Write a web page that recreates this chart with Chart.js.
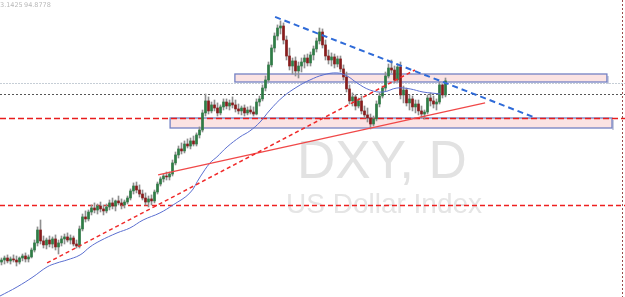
<!DOCTYPE html>
<html>
<head>
<meta charset="utf-8">
<script src="https://cdn.jsdelivr.net/npm/chart.js@4/dist/chart.umd.min.js"></script>
<style>
  html, body { margin: 0; padding: 0; background: #fff; }
  #wrap { width: 625px; height: 297px; position: relative; }
</style>
</head>
<body>
<div id="wrap"><canvas id="dxyChart" width="625" height="297"></canvas></div>
<script>
// daily candles, [open, high, low, close]
const candles = [
  [82.25, 82.55, 82.03, 82.40], [82.40, 82.70, 82.10, 82.55], [82.55, 82.78, 82.18, 82.33], [82.33, 82.63, 82.10, 82.48],
  [82.48, 82.78, 82.25, 82.40], [82.40, 82.70, 81.95, 82.25], [82.25, 82.63, 82.10, 82.55], [82.55, 82.85, 82.33, 82.70],
  [82.70, 82.93, 82.25, 82.48], [82.48, 82.78, 82.25, 82.63], [82.63, 83.30, 82.55, 83.15], [83.15, 83.90, 83.00, 83.68],
  [83.68, 84.88, 83.45, 84.65], [84.65, 85.40, 83.60, 83.83], [83.83, 84.20, 83.30, 83.53], [83.53, 84.05, 83.23, 83.90],
  [83.90, 84.20, 83.38, 83.60], [83.60, 84.13, 83.30, 83.98], [83.98, 84.28, 83.15, 83.38], [83.38, 83.90, 82.85, 83.68],
  [83.68, 84.20, 83.45, 83.98], [83.98, 84.35, 83.60, 84.13], [84.13, 84.43, 83.75, 83.90], [83.90, 84.28, 83.60, 84.05],
  [84.05, 84.20, 83.45, 83.60], [83.60, 83.90, 83.30, 83.45], [83.45, 84.95, 83.30, 84.73], [84.73, 85.85, 84.58, 85.63],
  [85.63, 86.08, 85.25, 85.48], [85.48, 86.15, 85.33, 86.00], [86.00, 86.53, 85.78, 86.30], [86.30, 86.68, 85.93, 86.15],
  [86.15, 86.60, 85.85, 86.45], [86.45, 86.75, 86.00, 86.23], [86.23, 86.53, 85.78, 86.08], [86.08, 86.60, 85.93, 86.38],
  [86.38, 86.90, 86.15, 86.68], [86.68, 87.05, 86.23, 86.45], [86.45, 86.90, 86.08, 86.83], [86.83, 87.20, 86.53, 86.68],
  [86.68, 86.98, 86.23, 86.53], [86.53, 86.90, 86.30, 86.75], [86.75, 87.20, 86.60, 87.05], [87.05, 87.73, 86.90, 87.58],
  [87.58, 88.18, 87.35, 87.95], [87.95, 88.25, 87.43, 87.65], [87.65, 88.03, 87.13, 87.35], [87.35, 87.65, 86.90, 87.05],
  [87.05, 87.43, 86.53, 86.75], [86.75, 87.20, 86.38, 86.98], [86.98, 87.28, 86.53, 86.83], [86.83, 87.65, 86.68, 87.50],
  [87.50, 88.25, 87.35, 88.10], [88.10, 88.63, 87.95, 88.48], [88.48, 88.85, 88.25, 88.70], [88.70, 89.00, 88.40, 88.63],
  [88.63, 89.00, 88.40, 88.85], [88.85, 89.90, 88.70, 89.68], [89.68, 90.50, 89.53, 90.28], [90.28, 90.95, 90.05, 90.73],
  [90.73, 91.18, 90.35, 90.58], [90.58, 91.33, 90.43, 91.10], [91.10, 91.48, 90.80, 90.95], [90.95, 91.55, 90.73, 91.33],
  [91.33, 91.70, 90.95, 91.10], [91.10, 91.93, 90.95, 91.78], [91.78, 92.38, 91.55, 92.15], [92.15, 93.65, 92.00, 93.43],
  [93.43, 94.85, 93.20, 94.33], [94.33, 94.63, 93.35, 93.58], [93.58, 94.25, 93.43, 94.03], [94.03, 94.40, 93.58, 93.80],
  [93.80, 94.18, 93.20, 93.43], [93.43, 94.03, 93.28, 93.88], [93.88, 94.48, 93.65, 94.25], [94.25, 94.48, 93.73, 93.95],
  [93.95, 94.40, 93.65, 94.18], [94.18, 94.63, 93.80, 94.03], [94.03, 94.40, 93.50, 93.73], [93.73, 94.10, 93.35, 93.58],
  [93.58, 93.95, 93.28, 93.80], [93.80, 94.03, 93.20, 93.43], [93.43, 93.88, 93.28, 93.65], [93.65, 93.95, 93.35, 93.50],
  [93.50, 93.88, 93.20, 93.35], [93.35, 94.48, 93.28, 94.25], [94.25, 94.70, 93.95, 94.48], [94.48, 95.53, 94.33, 95.30],
  [95.30, 96.20, 95.08, 95.90], [95.90, 97.25, 95.75, 97.03], [97.03, 98.53, 96.88, 98.30], [98.30, 99.43, 98.00, 99.20],
  [99.20, 100.03, 98.90, 99.80], [99.80, 100.33, 99.35, 99.95], [99.95, 100.18, 98.60, 98.90], [98.90, 99.20, 97.40, 97.70],
  [97.70, 98.30, 96.65, 96.95], [96.95, 97.55, 96.35, 97.33], [97.33, 97.63, 96.20, 96.58], [96.58, 97.25, 96.05, 96.95],
  [96.95, 97.55, 96.50, 97.25], [97.25, 97.78, 96.80, 97.55], [97.55, 97.85, 96.95, 97.18], [97.18, 98.00, 96.95, 97.78],
  [97.78, 98.45, 97.40, 98.23], [98.23, 99.05, 98.00, 98.83], [98.83, 99.80, 98.60, 99.50], [99.50, 99.73, 98.30, 98.53],
  [98.53, 98.90, 97.40, 97.70], [97.70, 98.15, 97.10, 97.40], [97.40, 97.93, 96.95, 97.63], [97.63, 97.85, 96.80, 97.10],
  [97.10, 97.70, 96.88, 97.48], [97.48, 97.70, 96.50, 96.73], [96.73, 97.03, 95.90, 96.13], [96.13, 96.50, 95.00, 95.23],
  [95.23, 95.53, 94.10, 94.33], [94.33, 94.93, 93.95, 94.63], [94.63, 94.78, 93.65, 93.95], [93.95, 94.55, 93.80, 94.33],
  [94.33, 94.70, 93.35, 93.58], [93.58, 93.95, 93.05, 93.28], [93.28, 93.80, 92.75, 93.05], [93.05, 93.35, 92.23, 92.60],
  [92.60, 93.20, 92.45, 92.98], [92.98, 94.33, 92.83, 94.10], [94.10, 94.93, 93.88, 94.70], [94.70, 95.45, 94.55, 95.30],
  [95.30, 96.50, 95.08, 96.20], [96.20, 97.10, 96.05, 96.80], [96.80, 97.40, 96.43, 96.65], [96.65, 96.95, 95.68, 95.90],
  [95.90, 97.10, 95.75, 96.88], [96.88, 97.25, 94.48, 94.78], [94.78, 95.45, 94.18, 95.15], [95.15, 95.30, 93.95, 94.18],
  [94.18, 94.78, 93.65, 94.48], [94.48, 94.70, 93.58, 93.88], [93.88, 94.40, 93.43, 94.10], [94.10, 94.40, 93.28, 93.58],
  [93.58, 93.95, 93.05, 93.35], [93.35, 93.65, 92.98, 93.50], [93.50, 94.78, 93.35, 94.55], [94.55, 94.93, 93.95, 94.33],
  [94.33, 94.70, 93.80, 94.10], [94.10, 94.48, 93.65, 94.25], [94.25, 95.75, 94.10, 95.53], [95.53, 95.60, 94.55, 94.78],
  [94.78, 96.05, 94.63, 95.83]
];

// moving average, bar index -> price
const maX = [0, 5.7, 11, 15.7, 19, 22.3, 26.7, 30, 33.3, 39, 43.3, 47.7, 53.3, 57.7, 63.3, 66.7, 70, 72.3, 75.7, 80,
             83.3, 86.7, 90, 94.3, 99, 103.3, 107.7, 112.3, 115.7, 119, 123.3, 127.7, 132.3, 136.7, 141, 147];
const maY = [79.70, 80.38, 81.13, 81.88, 82.18, 82.40, 82.78, 83.38, 83.83, 84.43, 84.80, 85.40, 85.93, 86.53, 87.43, 88.63, 89.68, 90.13, 90.88, 91.63,
             92.08, 92.75, 93.65, 94.63, 95.38, 95.90, 96.28, 96.43, 96.20, 95.68, 95.15, 95.00, 95.30, 95.23, 95.00, 94.85];

// horizontal levels
const levelPrices = [95.68, 94.8778, 93.05, 86.53];
const levelKinds  = ["grey", "last", "red", "red2"];

// zones: [fromBar, toBar, topPrice, bottomPrice]
const zones = [
  [78.3, 202.3, 96.35, 95.75],
  [56.7, 204.0, 93.05, 92.30]
];

// trend lines: [x1, p1, x2, p2]
const resistanceLine = [91.7, 100.63, 177.7, 93.13];
const supportDashed  = [15.7, 82.18, 138.3, 96.65];
const supportSolid   = [52.7, 88.78, 161.7, 94.18];

const sessionEndBar = 207.3;
const topInfo = ["3.1425", "94.8778"];
const symbolText = "DXY, D";
const symbolName = "US Dollar Index";

const UP = "#2f7c46";
const DOWN = "#881c1c";

function lineData(seg) {
  return [{ x: seg[0], y: seg[1] }, { x: seg[2], y: seg[3] }];
}

const overlay = {
  id: "overlay",
  beforeDatasetsDraw(chart) {
    const { ctx, chartArea, scales } = chart;
    const x = scales.x, y = scales.y;
    ctx.save();

    // watermark
    ctx.fillStyle = "#e2e2e2";
    ctx.font = "53px 'Liberation Sans', Arial, sans-serif";
    ctx.textBaseline = "alphabetic";
    ctx.fillText(symbolText, 297, 178);
    ctx.fillStyle = "#e5e5e5";
    ctx.font = "28px 'Liberation Sans', Arial, sans-serif";
    ctx.fillText(symbolName, 286, 213);

    // zones
    zones.forEach(z => {
      const x1 = x.getPixelForValue(z[0]), x2 = x.getPixelForValue(z[1]);
      const y1 = y.getPixelForValue(z[2]), y2 = y.getPixelForValue(z[3]);
      ctx.fillStyle = "#c9cde0";
      ctx.fillRect(x2, y1 + 2, 2, y2 - y1);
      ctx.fillStyle = "#fbe3e3";
      ctx.fillRect(x1, y1, x2 - x1, y2 - y1);
      ctx.strokeStyle = "#7381c4";
      ctx.lineWidth = 1.3;
      ctx.strokeRect(x1, y1, x2 - x1, y2 - y1);
    });

    // levels
    levelPrices.forEach((p, i) => {
      const py = Math.round(y.getPixelForValue(p)) + 0.5;
      const kind = levelKinds[i];
      if (kind === "grey") { ctx.strokeStyle = "#c6ced6"; ctx.lineWidth = 1; ctx.setLineDash([2, 1]); }
      if (kind === "last") { ctx.strokeStyle = "#555"; ctx.lineWidth = 1; ctx.setLineDash([2, 2]); }
      if (kind === "red") { ctx.strokeStyle = "#e81c1c"; ctx.lineWidth = 1.6; ctx.setLineDash([6, 3]); }
      if (kind === "red2") { ctx.strokeStyle = "#ee2020"; ctx.lineWidth = 1.3; ctx.setLineDash([5, 3]); }
      ctx.beginPath();
      ctx.moveTo(chartArea.left, py);
      ctx.lineTo(chartArea.right, py);
      ctx.stroke();
    });

    // session separator
    const vx = Math.round(x.getPixelForValue(sessionEndBar)) + 0.5;
    ctx.strokeStyle = "#9a4b4b";
    ctx.lineWidth = 1;
    ctx.setLineDash([2, 2]);
    ctx.beginPath();
    ctx.moveTo(vx, chartArea.top);
    ctx.lineTo(vx, chartArea.bottom);
    ctx.stroke();
    ctx.setLineDash([]);

    // price info
    ctx.fillStyle = "#b8b8b8";
    ctx.font = "6.5px 'DejaVu Sans', sans-serif";
    ctx.textBaseline = "top";
    ctx.fillText(topInfo[0], 0, 2);
    ctx.fillText(topInfo[1], 24, 2);
    ctx.restore();
  }
};

new Chart(document.getElementById("dxyChart"), {
  data: {
    datasets: [
      {
        type: "line",
        data: lineData(resistanceLine),
        borderColor: "#2f6bd8",
        borderWidth: 2,
        borderDash: [6, 4],
        pointRadius: 0,
        order: 0
      },
      {
        type: "line",
        data: lineData(supportDashed),
        borderColor: "#f02a2a",
        borderWidth: 1.5,
        borderDash: [4, 3],
        pointRadius: 0,
        order: 0
      },
      {
        type: "line",
        data: lineData(supportSolid),
        borderColor: "#f04848",
        borderWidth: 1.2,
        pointRadius: 0,
        order: 0
      },
      {
        type: "line",
        data: maX.map((v, i) => ({ x: v, y: maY[i] })),
        borderColor: "#5b6fd0",
        borderWidth: 1,
        tension: 0.4,
        pointRadius: 0,
        order: 1
      },
      {
        type: "bar",
        data: candles.map((c, i) => ({ x: i + 0.5, y: [c[0], c[3]] })),
        backgroundColor: candles.map(c => c[3] >= c[0] ? UP : DOWN),
        barThickness: 2,
        grouped: false,
        order: 2
      },
      {
        type: "bar",
        data: candles.map((c, i) => ({ x: i + 0.5, y: [c[2], c[1]] })),
        backgroundColor: "#8f8f8f",
        barThickness: 1,
        grouped: false,
        order: 3
      }
    ]
  },
  options: {
    responsive: false,
    animation: false,
    layout: { padding: 0 },
    plugins: { legend: { display: false }, tooltip: { enabled: false } },
    scales: {
      x: { type: "linear", min: 0, max: 625 / 3, offset: false, display: false },
      y: { type: "linear", min: 79.625, max: 101.9, display: false }
    }
  },
  plugins: [overlay]
});
</script>
</body>
</html>
